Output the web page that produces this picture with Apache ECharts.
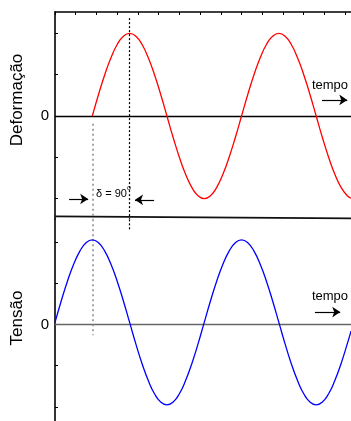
<!DOCTYPE html>
<html><head><meta charset="utf-8">
<script src="https://cdn.jsdelivr.net/npm/echarts@6/dist/echarts.min.js"></script>
<style>html,body{margin:0;padding:0;background:#fff}#c{width:351px;height:421px}</style>
</head><body><div id="c"></div>
<script>
// phase angle in degrees (x axis)
const angleTop = [90,105,120,135,150,165,180,195,210,225,240,255,270,285,300,315,330,345,360,375,390,405,420,435,450,465,480,495,510,525,540,555,570,585,600,615,630,645,660,675,690,705,714];
const deformacao = [0,0.52,1,1.41,1.73,1.93,2,1.93,1.73,1.41,1,0.52,0,-0.52,-1,-1.41,-1.73,-1.93,-2,-1.93,-1.73,-1.41,-1,-0.52,0,0.52,1,1.41,1.73,1.93,2,1.93,1.73,1.41,1,0.52,0,-0.52,-1,-1.41,-1.73,-1.93,-1.99];
const angleBottom = [0,15,30,45,60,75,90,105,120,135,150,165,180,195,210,225,240,255,270,285,300,315,330,345,360,375,390,405,420,435,450,465,480,495,510,525,540,555,570,585,600,615,630,645,660,675,690,705,714];
const tensao = [0.05,0.57,1.05,1.46,1.78,1.98,2.05,1.98,1.78,1.46,1.05,0.57,0.05,-0.47,-0.95,-1.36,-1.68,-1.88,-1.95,-1.88,-1.68,-1.36,-0.95,-0.47,0.05,0.57,1.05,1.46,1.78,1.98,2.05,1.98,1.78,1.46,1.05,0.57,0.05,-0.47,-0.95,-1.36,-1.68,-1.88,-1.95,-1.88,-1.68,-1.36,-0.95,-0.47,-0.16];
const yTicks = [-2,-1,0,1,2];
const yLabels = [0];
const xMax = 714;

const FONT = '"Liberation Sans", Arial, sans-serif';
const chart = echarts.init(document.getElementById('c'), null, {renderer:'canvas'});
const axisLine = {show:true, onZero:false, lineStyle:{color:'#000', width:1.6}};
const tick = {show:true, inside:true, length:3, lineStyle:{color:'#000', width:1}};
const noLabel = {show:false};

function pairs(xs, ys){ return xs.map((x,i)=>[x, ys[i]]); }

chart.setOption({
  animation:false,
  grid:[
    {left:55, top:12, right:0, height:207},
    {left:55, top:219, right:0, height:202}
  ],
  xAxis:[
    {gridIndex:0, type:'value', position:'top', min:0, max:xMax, interval:50,
     axisLine:axisLine, axisTick:tick, axisLabel:noLabel, splitLine:{show:false}},
    {gridIndex:1, type:'value', min:0, max:xMax, interval:50, show:false, splitLine:{show:false}}
  ],
  yAxis:[
    {gridIndex:0, type:'value', min:-2.494, max:2.518,
     axisLine:axisLine,
     axisTick:Object.assign({}, tick, {customValues:yTicks}),
     axisLabel:{show:true, customValues:yLabels, color:'#000', fontSize:15, fontFamily:FONT, margin:6},
     splitLine:{show:false}},
    {gridIndex:1, type:'value', min:-2.34, max:2.558,
     axisLine:axisLine,
     axisTick:Object.assign({}, tick, {customValues:yTicks}),
     axisLabel:{show:true, customValues:yLabels, color:'#000', fontSize:15, fontFamily:FONT, margin:6},
     splitLine:{show:false}}
  ],
  series:[
    {type:'line', xAxisIndex:0, yAxisIndex:0, data:pairs(angleTop, deformacao), smooth:true,
     showSymbol:false, symbol:'none', lineStyle:{color:'#ff0000', width:1.3}, z:5,
     markLine:{silent:true, symbol:'none', label:{show:false}, emphasis:{disabled:true}, animation:false,
       data:[
         [{coord:[0,0], lineStyle:{color:'#000', width:1.3, type:'solid'}}, {coord:[xMax,0]}],
         [{coord:[0,-2.43], lineStyle:{color:'#111', width:1.6, type:'solid'}}, {coord:[xMax,-2.48]}],
         [{coord:[90,-0.19], lineStyle:{color:'#888', width:1.5, type:[2,3]}}, {coord:[90,-2.494]}],
         [{coord:[180,2.37], lineStyle:{color:'#000', width:1.2, type:[2,2]}}, {coord:[180,-2.494]}],
         [{coord:[34,-2.01], symbol:'none', lineStyle:{color:'#000', width:1.2, type:'solid'}}, {coord:[80,-2.01], symbol:'arrow', symbolSize:8}],
         [{coord:[239,-2.03], symbol:'none', lineStyle:{color:'#000', width:1.2, type:'solid'}}, {coord:[193,-2.03], symbol:'arrow', symbolSize:8}],
         [{coord:[644,0.39], symbol:'none', lineStyle:{color:'#000', width:1.2, type:'solid'}}, {coord:[705,0.39], symbol:'arrow', symbolSize:8}]
       ]}
    },
    {type:'line', xAxisIndex:1, yAxisIndex:1, data:pairs(angleBottom, tensao), smooth:true,
     showSymbol:false, symbol:'none', lineStyle:{color:'#0000ff', width:1.3}, z:5,
     markLine:{silent:true, symbol:'none', label:{show:false}, emphasis:{disabled:true}, animation:false,
       data:[
         [{coord:[0,0], lineStyle:{color:'#666', width:1.3, type:'solid'}}, {coord:[xMax,0]}],
         [{coord:[90,2.55], lineStyle:{color:'#888', width:1.5, type:[2,3]}}, {coord:[90,-0.26]}],
         [{coord:[180,2.55], lineStyle:{color:'#000', width:1.2, type:[2,2]}}, {coord:[180,2.3]}],
         [{coord:[627,0.30], symbol:'none', lineStyle:{color:'#000', width:1.2, type:'solid'}}, {coord:[688,0.30], symbol:'arrow', symbolSize:8}]
       ]}
    }
  ],
  graphic:[
    {type:'text', x:17, y:100, rotation:Math.PI/2,
     style:{text:'Deformação', font:'17px '+FONT, fill:'#000', align:'center', verticalAlign:'middle', textAlign:'center', textVerticalAlign:'middle'}},
    {type:'text', x:17, y:318, rotation:Math.PI/2,
     style:{text:'Tensão', font:'17px '+FONT, fill:'#000', align:'center', verticalAlign:'middle', textAlign:'center', textVerticalAlign:'middle'}},
    {type:'text', x:330, y:85,
     style:{text:'tempo', font:'13px '+FONT, fill:'#000', align:'center', verticalAlign:'middle', textAlign:'center', textVerticalAlign:'middle'}},
    {type:'text', x:330, y:296,
     style:{text:'tempo', font:'13px '+FONT, fill:'#000', align:'center', verticalAlign:'middle', textAlign:'center', textVerticalAlign:'middle'}},
    {type:'text', x:96, y:194,
     style:{text:'δ = 90', font:'11px '+FONT, fill:'#000', align:'left', verticalAlign:'middle', textAlign:'left', textVerticalAlign:'middle'}},
    {type:'text', x:127, y:188,
     style:{text:'o', font:'7px '+FONT, fill:'#000', align:'left', verticalAlign:'middle', textAlign:'left', textVerticalAlign:'middle'}}
  ]
});
</script>
</body></html>
